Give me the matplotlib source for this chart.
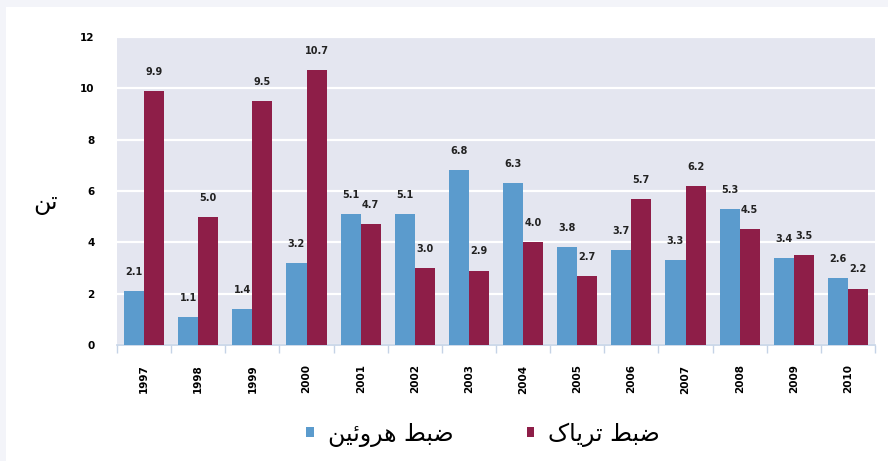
import matplotlib
matplotlib.use("Agg")
import matplotlib.pyplot as plt
import numpy as np
from matplotlib.patches import Rectangle

years = ["1997", "1998", "1999", "2000", "2001", "2002", "2003",
         "2004", "2005", "2006", "2007", "2008", "2009", "2010"]
heroin = [2.1, 1.1, 1.4, 3.2, 5.1, 5.1, 6.8, 6.3, 3.8, 3.7, 3.3, 5.3, 3.4, 2.6]
opium = [9.9, 5.0, 9.5, 10.7, 4.7, 3.0, 2.9, 4.0, 2.7, 5.7, 6.2, 4.5, 3.5, 2.2]
yticks = [0, 2, 4, 6, 8, 10, 12]

# Persian labels, shaped into presentation forms in visual (left-to-right) order
ylabel_txt = "\uFEE6\uFE97"  # تن
heroin_name = "\uFEE6\uFEF4\uFE8B\uFEED\uFEAE\uFEEB \uFEC2\uFE92\uFEBF"  # ضبط هروئين
opium_name = "\uFB8E\uFE8E\uFEF3\uFEAE\uFE97 \uFEC2\uFE92\uFEBF"  # ضبط ترياک

BLUE = "#5b9bcd"
MAROON = "#8e1e48"

fig = plt.figure(figsize=(8.88, 4.61), dpi=100)
fig.patch.set_facecolor("white")
# light outer frame bands (top and left)
fig.add_artist(Rectangle((0, 1 - 7/461), 1, 7/461, transform=fig.transFigure,
                         facecolor="#f3f4f9", edgecolor="none", zorder=-5))
fig.add_artist(Rectangle((0, 0), 6/888, 1, transform=fig.transFigure,
                         facecolor="#f3f4f9", edgecolor="none", zorder=-5))

ax = fig.add_axes([117/888, 1 - 345/461, 758/888, 308/461])
ax.set_zorder(2)
ax.set_facecolor("#e4e6f0")

x = np.arange(len(years))
w = 0.37
b1 = ax.bar(x - w/2, heroin, width=w, color=BLUE, label=heroin_name, zorder=3)
b2 = ax.bar(x + w/2, opium, width=w, color=MAROON, label=opium_name, zorder=3)

for xi, v in zip(x, heroin):
    ax.text(xi - w/2, v + 0.55, f"{v:.1f}", ha="center", va="bottom",
            fontsize=7, fontweight="bold", color="#222222", zorder=4)
for xi, v in zip(x, opium):
    ax.text(xi + w/2, v + 0.55, f"{v:.1f}", ha="center", va="bottom",
            fontsize=7, fontweight="bold", color="#222222", zorder=4)

ax.set_xlim(-0.5, len(years) - 0.5)
ax.set_ylim(0, 12)
ax.set_yticks(yticks)
ax.set_yticklabels([str(t) for t in yticks], fontsize=7.5, fontweight="bold")
ax.tick_params(axis="y", length=0, pad=16)
ax.grid(axis="y", color="white", linewidth=1.6, zorder=1)
ax.set_axisbelow(True)

ax.set_xticks(x)
ax.set_xticklabels(years, rotation=90, fontsize=7.5, fontweight="bold")
ax.tick_params(axis="x", length=0, pad=14)
ax.set_xticks(np.arange(-0.5, len(years)), minor=True)
ax.tick_params(axis="x", which="minor", length=6, color="#c5d3e6", width=1)

for s in ["top", "right", "left"]:
    ax.spines[s].set_visible(False)
ax.spines["bottom"].set_color("#c5d3e6")
ax.spines["bottom"].set_linewidth(1.2)

fig.text(46/888, 1 - 203/461, ylabel_txt, fontsize=17, ha="center", va="center",
         family="DejaVu Sans")

leg = fig.legend(handles=[b1, b2], loc="center", bbox_to_anchor=(483/888, 1 - 434/461),
                 ncol=2, frameon=False, fontsize=17, handlelength=0.3, handleheight=0.3,
                 columnspacing=3.1, handletextpad=0.6)

fig.savefig("out.png", dpi=100)
